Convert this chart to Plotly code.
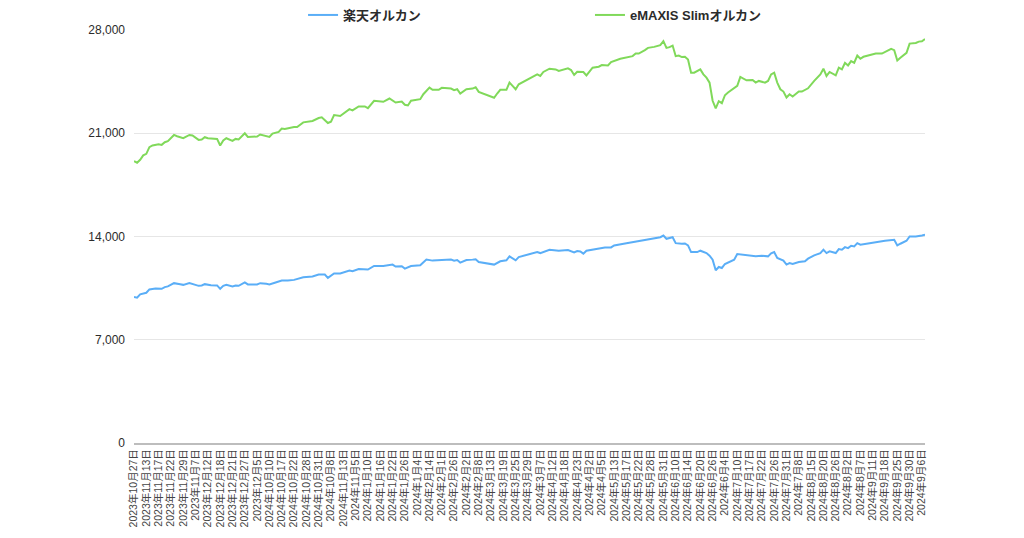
import plotly.graph_objects as go

# 横軸ラベル (4営業日ごと)
tick_labels = [
    "2023年10月27日", "2023年11月13日", "2023年11月17日", "2023年11月22日", "2023年11月29日",
    "2023年11月7日", "2023年12月12日", "2023年12月18日", "2023年12月21日", "2023年12月27日",
    "2023年12月5日", "2024年10月10日", "2024年10月17日", "2024年10月22日", "2024年10月28日",
    "2024年10月31日", "2024年10月8日", "2024年11月13日", "2024年11月5日", "2024年1月10日",
    "2024年1月16日", "2024年1月22日", "2024年1月26日", "2024年1月4日", "2024年2月14日",
    "2024年2月1日", "2024年2月26日", "2024年2月2日", "2024年2月8日", "2024年3月13日",
    "2024年3月19日", "2024年3月25日", "2024年3月29日", "2024年3月7日", "2024年4月12日",
    "2024年4月18日", "2024年4月23日", "2024年4月2日", "2024年4月5日", "2024年5月13日",
    "2024年5月17日", "2024年5月22日", "2024年5月28日", "2024年5月31日", "2024年6月10日",
    "2024年6月14日", "2024年6月20日", "2024年6月26日", "2024年6月4日", "2024年7月10日",
    "2024年7月17日", "2024年7月22日", "2024年7月26日", "2024年7月31日", "2024年7月8日",
    "2024年8月15日", "2024年8月20日", "2024年8月26日", "2024年8月2日", "2024年8月7日",
    "2024年9月11日", "2024年9月18日", "2024年9月25日", "2024年9月30日", "2024年9月6日",
]
tick_idx = list(range(0, 257, 4))

# 楽天オルカン (日数インデックス, 基準価額)
rakuten_idx = [
    0, 1, 2, 4, 5, 7, 9, 10, 11, 13, 15, 16, 18, 19, 21, 22, 23, 25, 27, 28,
    29, 30, 32, 33, 34, 36, 37, 40, 41, 43, 44, 46, 48, 50, 52, 55, 58, 60, 62, 63,
    65, 67, 70, 71, 73, 76, 78, 81, 84, 85, 87, 88, 90, 93, 95, 97, 99, 101, 103, 104,
    105, 106, 108, 110, 111, 112, 115, 117, 119, 121, 122, 124, 125, 129, 131, 132, 134, 135, 138, 141,
    143, 144, 145, 146, 147, 150, 153, 155, 156, 160, 163, 167, 169, 171, 172, 173, 175, 176, 178, 179,
    180, 181, 183, 184, 186, 187, 188, 189, 190, 191, 192, 194, 195, 196, 198, 200, 202, 204, 206, 207,
    208, 209, 211, 212, 213, 214, 216, 218, 219, 221, 223, 224, 225, 226, 228, 229, 230, 231, 232, 233,
    234, 235, 236, 239, 242, 243, 244, 247, 248, 249, 251, 252, 254, 256, 257,
]
rakuten_val = [
    9894, 9847, 10076, 10184, 10413, 10480, 10453, 10567, 10615, 10837, 10769, 10722, 10837, 10789, 10655, 10682, 10769, 10702, 10682, 10453,
    10655, 10722, 10615, 10682, 10655, 10884, 10749, 10749, 10837, 10789, 10749, 10884, 11018, 11018, 11059, 11240, 11288, 11422, 11422, 11193,
    11489, 11489, 11691, 11644, 11799, 11759, 12001, 12001, 12095, 11961, 11981, 11826, 12001, 12048, 12432, 12365, 12385, 12432, 12432, 12365,
    12405, 12230, 12405, 12432, 12452, 12270, 12183, 12095, 12317, 12385, 12654, 12385, 12607, 12836, 12943, 12876, 13037, 13105, 13037, 13078,
    12923, 13011, 12990, 12836, 13037, 13172, 13260, 13260, 13394, 13549, 13663, 13845, 13885, 13953, 14067, 13845, 13953, 13549, 13509, 13529,
    13394, 12943, 12943, 13037, 12876, 12701, 12432, 11712, 11934, 11866, 12136, 12317, 12432, 12809, 12741, 12701, 12654, 12701, 12654, 12856,
    12943, 12539, 12365, 12095, 12203, 12136, 12270, 12317, 12499, 12721, 12876, 13105, 12876, 12990, 12876, 13145, 13105, 13280, 13212, 13374,
    13327, 13549, 13441, 13549, 13616, 13663, 13710, 13778, 13394, 13509, 13710, 14000, 14000, 14067, 14114,
]

# eMAXIS Slimオルカン
emaxis_idx = [
    0, 1, 2, 3, 4, 5, 6, 8, 9, 10, 11, 13, 14, 16, 18, 19, 21, 22, 23, 24,
    27, 28, 29, 30, 32, 33, 34, 36, 37, 40, 41, 42, 44, 45, 47, 48, 49, 52, 53, 55,
    58, 60, 61, 63, 64, 65, 67, 70, 71, 73, 75, 76, 78, 81, 83, 85, 87, 88, 89, 90,
    92, 93, 94, 96, 97, 99, 100, 103, 104, 105, 106, 108, 110, 111, 112, 115, 116, 117, 118, 119,
    121, 122, 123, 124, 125, 127, 129, 131, 132, 133, 135, 137, 138, 141, 142, 143, 144, 146, 147, 148,
    149, 151, 152, 154, 155, 158, 160, 162, 163, 164, 166, 167, 169, 171, 172, 173, 174, 175, 176, 177,
    178, 179, 180, 181, 182, 184, 185, 186, 187, 188, 189, 190, 191, 192, 193, 195, 196, 197, 198, 199,
    201, 202, 203, 205, 206, 207, 208, 209, 210, 211, 212, 213, 214, 216, 217, 219, 221, 222, 223, 224,
    225, 226, 228, 229, 230, 231, 232, 233, 234, 235, 236, 237, 239, 241, 243, 244, 246, 247, 248, 249,
    251, 252, 254, 255, 256, 257,
]
emaxis_val = [
    19115, 19001, 19203, 19499, 19607, 20058, 20172, 20260, 20213, 20394, 20462, 20886, 20798, 20663, 20886, 20845, 20549, 20576, 20731, 20663,
    20617, 20172, 20509, 20663, 20482, 20617, 20576, 21000, 20751, 20778, 20913, 20865, 20751, 20980, 21088, 21316, 21290, 21424, 21424, 21740,
    21829, 22030, 22077, 21694, 21787, 22232, 22165, 22636, 22548, 22817, 22817, 22703, 23201, 23134, 23356, 23087, 23154, 22932, 22885, 23201,
    23242, 23309, 23646, 24096, 23941, 23941, 24076, 24029, 23915, 23982, 23692, 23982, 24029, 24117, 23807, 23578, 23511, 23403, 23692, 23941,
    23941, 24433, 24210, 23982, 24319, 24548, 24769, 24992, 24884, 25153, 25375, 25329, 25221, 25396, 25288, 24951, 25173, 25153, 24925, 25221,
    25442, 25510, 25624, 25597, 25826, 26048, 26163, 26230, 26405, 26405, 26634, 26788, 26856, 26970, 27240, 26788, 26836, 26943, 26230, 26271,
    26163, 26183, 26001, 25106, 25106, 25329, 24992, 24769, 24433, 23201, 22683, 23174, 23040, 23578, 23760, 24096, 24210, 24816, 24722, 24588,
    24614, 24433, 24548, 24433, 24548, 24992, 25106, 24433, 23982, 23827, 23423, 23646, 23490, 23827, 23827, 24049, 24548, 24769, 24992, 25375,
    24884, 25153, 24925, 25442, 25329, 25779, 25597, 25894, 25779, 26271, 26048, 26183, 26297, 26405, 26405, 26519, 26721, 26634, 25934, 26115,
    26452, 27078, 27125, 27213, 27240, 27394,
]

FONT = "Liberation Sans, Noto Sans CJK JP, sans-serif"

fig = go.Figure()
fig.add_trace(go.Scatter(
    x=rakuten_idx, y=rakuten_val, mode="lines", name="楽天オルカン",
    line=dict(color="#5aaef7", width=2), legend="legend",
))
fig.add_trace(go.Scatter(
    x=emaxis_idx, y=emaxis_val, mode="lines", name="eMAXIS Slimオルカン",
    line=dict(color="#80d95a", width=2), legend="legend2",
))

# ページ本体の余白 (8px) を差し引いたサイズ
legend_font = dict(family=FONT, size=13, color="#2b2b2b", weight="bold")
fig.update_layout(
    width=1016, height=530,
    margin=dict(l=126, r=99, t=18, b=95),
    paper_bgcolor="white", plot_bgcolor="white",
    font=dict(family=FONT, color="#444444"),
    showlegend=True,
    legend=dict(orientation="h", xref="container", yref="container",
                x=0.2904, y=0.9868, xanchor="left", yanchor="middle",
                font=legend_font, bgcolor="rgba(0,0,0,0)"),
    legend2=dict(orientation="h", xref="container", yref="container",
                 x=0.5728, y=0.9868, xanchor="left", yanchor="middle",
                 font=legend_font, bgcolor="rgba(0,0,0,0)"),
    xaxis=dict(
        range=[0, 257], tickmode="array", tickvals=tick_idx, ticktext=tick_labels,
        tickangle=-90, tickfont=dict(size=10.5, color="#444444"), automargin=False,
        showgrid=False, zeroline=False, showline=True, linecolor="#bdbdbd", linewidth=2,
    ),
    yaxis=dict(
        range=[0, 28000], tickvals=[0, 7000, 14000, 21000, 28000], tickformat=",",
        tickfont=dict(size=12, color="#2b2b2b"), ticklabelstandoff=8, automargin=False,
        showgrid=True, gridcolor="#e6e6e6", gridwidth=1, zeroline=False,
    ),
)

fig.write_html("out.html")
